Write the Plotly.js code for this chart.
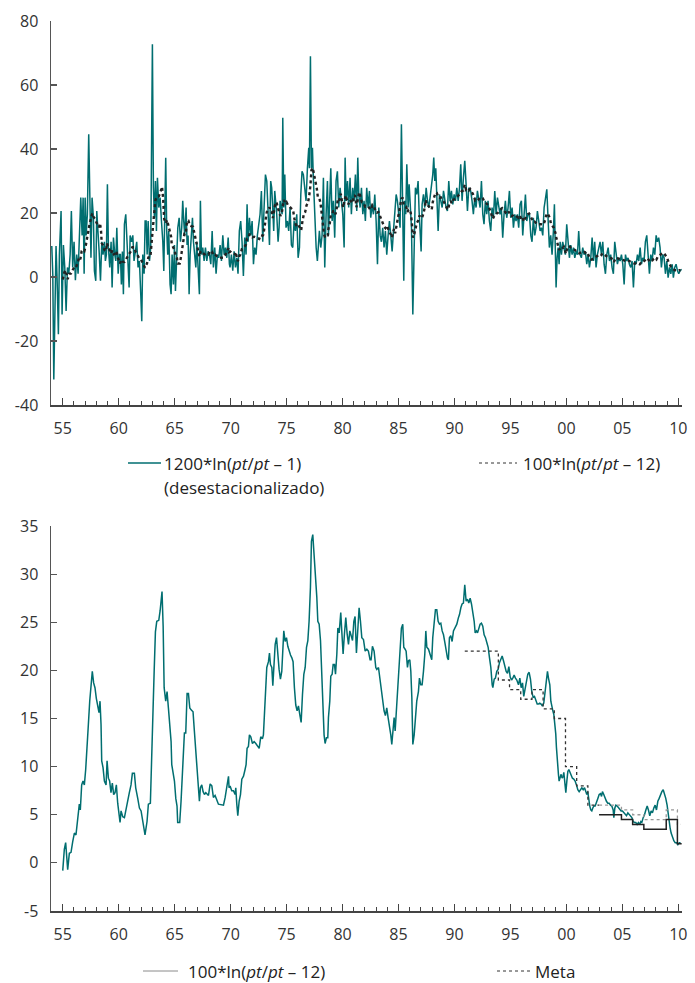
<!DOCTYPE html>
<html>
<head>
<meta charset="utf-8">
<script src="https://cdn.plot.ly/plotly-3.0.1.min.js"></script>
<style>
html,body{margin:0;padding:0;background:#fff;}
#chart{width:695px;height:983px;}
</style>
</head>
<body>
<div id="chart"></div>
<script>
// ---------------- DATA ----------------
// Inflación mensual anualizada 1200*ln(pt/pt-1), desestacionalizada (fecha decimal, valor)
const mensT = [1954.02,1954.11,1954.20,1954.32,1954.40,1954.49,1954.61,1954.70,1954.85,1954.94,
1955.06,1955.18,1955.30,1955.42,1955.54,1955.66,1955.77,1955.89,1956.01,1956.13,1956.25,1956.37,1956.49,1956.61,1956.73,1956.82,1956.91,
1957.00,1957.09,1957.20,1957.32,1957.43,1957.52,1957.62,1957.74,1957.83,1957.95,1958.04,1958.13,1958.25,1958.37,1958.49,1958.60,1958.72,1958.81,1958.90,1958.99,
1959.08,1959.20,1959.32,1959.41,1959.53,1959.65,1959.74,1959.83,1959.95,1960.06,1960.15,1960.24,1960.33,1960.42,1960.51,1960.63,1960.72,1960.81,1960.93,
1961.02,1961.14,1961.26,1961.37,1961.49,1961.61,1961.73,1961.85,1961.97,1962.06,1962.15,1962.27,1962.36,1962.45,1962.54,1962.63,1962.75,1962.86,
1963.01,1963.10,1963.19,1963.28,1963.37,1963.46,1963.58,1963.70,1963.82,1963.94,1964.03,1964.12,1964.20,1964.29,1964.38,1964.47,1964.59,1964.68,1964.77,1964.89,1964.98,
1965.07,1965.16,1965.28,1965.40,1965.52,1965.63,1965.72,1965.81,1965.90,1966.02,1966.11,1966.20,1966.29,1966.38,1966.50,1966.59,1966.68,1966.80,1966.89,1966.98,
1967.09,1967.21,1967.30,1967.39,1967.51,1967.63,1967.75,1967.87,1967.99,1968.11,1968.23,1968.35,1968.46,1968.58,1968.70,1968.82,1968.94,
1969.06,1969.18,1969.30,1969.42,1969.54,1969.66,1969.78,1969.89,1969.95,1970.07,1970.19,1970.31,1970.43,1970.55,1970.66,1970.78,1970.90,
1971.02,1971.14,1971.26,1971.38,1971.47,1971.56,1971.68,1971.80,1971.92,1972.04,1972.15,1972.27,1972.39,1972.51,1972.63,1972.75,1972.87,1972.99,
1973.11,1973.23,1973.35,1973.47,1973.58,1973.67,1973.76,1973.85,1973.94,1974.03,1974.12,1974.24,1974.33,1974.42,1974.51,1974.60,1974.66,1974.75,1974.84,1974.95,
1975.07,1975.19,1975.31,1975.43,1975.55,1975.67,1975.79,1975.91,1976.03,1976.15,1976.27,1976.38,1976.50,1976.62,1976.74,1976.86,1976.98,
1977.04,1977.13,1977.22,1977.31,1977.40,1977.52,1977.64,1977.75,1977.84,1977.93,1978.05,1978.17,1978.29,1978.41,1978.53,1978.65,1978.74,1978.83,1978.95,
1979.07,1979.18,1979.30,1979.42,1979.54,1979.66,1979.78,1979.90,1980.02,1980.14,1980.23,1980.32,1980.44,1980.55,1980.67,1980.79,1980.91,
1981.03,1981.15,1981.27,1981.36,1981.45,1981.57,1981.69,1981.81,1981.92,1982.04,1982.16,1982.28,1982.40,1982.52,1982.64,1982.76,1982.88,
1983.00,1983.12,1983.24,1983.36,1983.47,1983.59,1983.71,1983.83,1983.95,1984.07,1984.19,1984.31,1984.43,1984.55,1984.67,1984.79,1984.90,
1985.02,1985.14,1985.26,1985.35,1985.47,1985.56,1985.65,1985.74,1985.86,1985.95,1986.04,1986.16,1986.28,1986.39,1986.51,1986.63,1986.75,1986.84,1986.93,
1987.02,1987.11,1987.23,1987.35,1987.47,1987.59,1987.70,1987.82,1987.94,1988.06,1988.15,1988.24,1988.33,1988.42,1988.54,1988.66,1988.78,1988.90,
1989.02,1989.13,1989.25,1989.37,1989.49,1989.61,1989.73,1989.85,1989.97,1990.09,1990.21,1990.33,1990.45,1990.56,1990.68,1990.80,1990.92,
1991.04,1991.16,1991.28,1991.45,1991.57,1991.69,1991.81,1991.93,1992.05,1992.17,1992.29,1992.41,1992.53,1992.64,1992.76,1992.88,
1993.00,1993.12,1993.24,1993.36,1993.48,1993.60,1993.72,1993.84,1993.96,1994.07,1994.19,1994.31,1994.43,1994.55,1994.67,1994.79,1994.91,
1995.03,1995.15,1995.27,1995.39,1995.50,1995.62,1995.74,1995.86,1995.98,1996.10,1996.22,1996.34,1996.46,1996.58,1996.70,1996.82,1996.93,
1997.05,1997.17,1997.29,1997.41,1997.53,1997.65,1997.77,1997.89,1998.01,1998.13,1998.25,1998.36,1998.48,1998.60,1998.72,1998.84,1998.93,
1999.02,1999.08,1999.17,1999.26,1999.35,1999.44,1999.56,1999.67,1999.79,1999.91,2000.03,2000.15,2000.27,2000.39,2000.51,2000.63,2000.75,2000.87,2000.99,
2001.10,2001.22,2001.34,2001.46,2001.58,2001.70,2001.82,2001.94,2002.06,2002.18,2002.30,2002.42,2002.53,2002.65,2002.77,2002.89,
2003.01,2003.13,2003.25,2003.37,2003.49,2003.61,2003.73,2003.85,2003.96,2004.08,2004.20,2004.32,2004.44,2004.56,2004.68,2004.80,2004.92,
2005.04,2005.16,2005.28,2005.39,2005.51,2005.63,2005.75,2005.87,2005.99,2006.11,2006.23,2006.35,2006.47,2006.59,2006.71,2006.82,2006.94,
2007.06,2007.18,2007.30,2007.42,2007.54,2007.66,2007.78,2007.90,2008.02,2008.13,2008.25,2008.37,2008.49,2008.61,2008.73,2008.85,2008.97,
2009.09,2009.21,2009.33,2009.45,2009.56,2009.68,2009.80,2009.92,2010.04,2010.16,2010.30];
const mensV = [9.7,0.8,-32,0,9.7,0,-17.9,7,20.6,-11.7,
10,3,-10.6,3,1,7,20.6,3,11,-1,7,1,11,24.8,13,24.8,1,
24.8,13,19.6,44.6,26.9,6,24.8,18.5,1.9,-1.2,20.6,13,8,-1.2,11,7,11,5,7,29,
9.2,3,11,-3.3,12.3,7,5,15.4,1,7,7,-2.3,8,-5.4,16.5,19.6,13,7,-3.3,
13,11,13,5,8,11,3,5,-5.4,-13.8,7,1,17.5,17.5,7,17.5,5,9.2,
72.7,28,18.5,30,14.4,31,21.7,24.8,17.5,11,1.9,18.5,37.3,14.4,7,14.4,-2.3,-5.4,7,-2.3,10,
-4.4,7,15.4,18.5,11,15.4,23.8,17.5,13,21.7,10,13,-5.4,7,14.4,18.5,11,7,3,11,
4,-5.4,23.8,7,9.2,5,9.2,5,8,7,4,14.4,3,9.2,1,7,6,
10,5,13,7,9.2,6,12.3,4,3,7,2,8,3,6,1,14.4,17.5,
11,0.3,12.3,7,22.7,11,18.5,13,17.5,4,9.2,7,13,17.5,19.6,26.9,11,21.7,
32,30,17.5,10,30,27.9,21.7,14.4,26.9,23.8,19.6,11,15.4,23.8,21.7,19.6,49.8,21.7,32,15.4,
17.5,14.4,21.7,10,9.2,17.5,14.4,19.6,6,9.2,25.8,33,32,27.9,23.8,34,40.4,
34,69,34,40.4,30,17.5,9.2,5,11,14.4,9.2,13,31,3,19.6,30,13,22.7,34,
17.5,23.8,12.3,30,33,21.7,27.9,23.8,19.6,9.2,37.3,23.8,30,21.7,31,19.6,27.9,
23.8,32,20.6,37.3,25.8,21.7,27.9,19.6,23.8,17.5,27.9,21.7,26.9,18.5,22.7,19.6,25.8,
17.5,4,21.7,13,11,15.4,9.2,14.4,7,13,17.5,13,8,14.4,21.7,25.8,23.8,
18.5,15.4,47.7,23.8,-1.2,23.8,19.6,35.2,21.7,29,23.8,15.4,-11.7,14.4,27.9,25.8,30,20.6,14.4,
8,22.7,25.8,21.7,27.9,23.8,21.7,24.8,27.9,32,37.3,30,34,25.8,14.4,25.8,23.8,21.7,
26.9,23.8,21.7,20.6,30,23.8,26.9,22.7,25.8,23.8,27.9,23.8,27.9,35.2,23.8,31,36.3,
29,20.6,27.9,26.9,23.8,19.6,24.8,21.7,26.9,23.8,21.7,30,19.6,16.5,23.8,19.6,
23.8,17.5,14.4,21.7,18.5,26.9,19.6,24.8,21.7,19.6,21.7,12.3,19.6,23.8,18.5,21.7,26.9,
18.5,21.7,15.4,19.6,17.5,19.6,15.4,22.7,23.8,13,19.6,25.8,17.5,19.6,19.6,13,11,
18.5,13,15.4,20.6,17.5,14.4,15.4,13,21.7,24.8,27.4,18.5,9.2,13,7,14.4,22.7,
7,-3.3,6,9.2,4,11,7,11,9.2,7,16.5,9.2,6,10,7,9.2,6,8,7,
14.4,7,6,9.2,7,8,4,7,3,6,12.3,5,11,3,7,9.2,
11,7,11,4,1,7,9.2,5,7,3,1,11,7,4,6,5,7,
4,-2.3,7,5,6,4,3,5,-3.3,5,4,7,5,9.2,4,6,5,
11,13,7,1,7,5,9.2,7,13,11,12.3,9.2,3,7,6,1,5,
-0.2,3,1,4,-0.2,3,4,2,1,2,2.4];

// Inflación anual 100*ln(pt/pt-12) (fecha decimal, valor)
const anualT = [1955.00,1955.14,1955.26,1955.44,1955.59,1955.74,1955.89,1956.04,1956.18,1956.33,1956.48,1956.57,1956.69,1956.81,1956.93,
1957.05,1957.17,1957.29,1957.41,1957.52,1957.64,1957.76,1957.88,1958.00,1958.12,1958.24,1958.33,1958.42,1958.48,1958.60,1958.72,1958.87,1958.96,
1959.08,1959.19,1959.31,1959.43,1959.55,1959.67,1959.79,1959.91,1960.03,1960.12,1960.21,1960.36,1960.51,1960.66,1960.81,1960.95,
1961.10,1961.22,1961.40,1961.52,1961.70,1961.85,1962.00,1962.17,1962.35,1962.53,1962.65,1962.83,1962.95,1963.07,1963.17,1963.28,1963.40,1963.58,1963.70,1963.87,1963.97,
1964.06,1964.20,1964.32,1964.44,1964.56,1964.68,1964.74,1964.86,1964.98,1965.10,1965.21,1965.27,1965.45,1965.57,1965.69,1965.81,1965.87,1965.99,
1966.11,1966.23,1966.35,1966.47,1966.64,1966.76,1966.88,1967.00,1967.12,1967.21,1967.30,1967.42,1967.54,1967.66,1967.78,1967.89,
1968.02,1968.17,1968.32,1968.46,1968.61,1968.91,1969.21,1969.36,1969.51,1969.66,1969.81,1969.86,1969.95,1970.10,1970.25,1970.40,1970.46,1970.55,1970.64,1970.76,1970.88,
1971.00,1971.15,1971.29,1971.38,1971.47,1971.59,1971.68,1971.80,1971.95,1972.10,1972.25,1972.40,1972.55,1972.69,1972.84,1972.93,
1973.02,1973.14,1973.23,1973.38,1973.47,1973.56,1973.68,1973.77,1973.86,1973.98,1974.10,1974.21,1974.33,1974.45,1974.57,1974.66,1974.75,1974.87,1974.99,
1975.11,1975.23,1975.35,1975.47,1975.58,1975.70,1975.82,1975.94,1976.06,1976.18,1976.30,1976.42,1976.54,1976.66,1976.78,1976.90,
1977.01,1977.13,1977.22,1977.34,1977.46,1977.58,1977.70,1977.79,1977.91,1978.03,1978.15,1978.24,1978.35,1978.44,1978.56,1978.68,1978.74,1978.86,1978.95,
1979.07,1979.16,1979.28,1979.37,1979.49,1979.58,1979.70,1979.84,1979.93,1980.05,1980.17,1980.29,1980.41,1980.53,1980.65,1980.77,1980.89,
1981.01,1981.12,1981.24,1981.36,1981.48,1981.60,1981.72,1981.87,
1982.02,1982.17,1982.31,1982.46,1982.55,1982.67,1982.82,1982.97,1983.06,1983.21,1983.36,1983.51,1983.60,1983.71,1983.83,1983.95,
1984.07,1984.19,1984.31,1984.40,1984.49,1984.61,1984.70,1984.79,1984.91,1985.03,1985.15,1985.26,1985.38,1985.47,1985.59,1985.68,1985.80,1985.89,
1986.01,1986.10,1986.19,1986.28,1986.40,1986.52,1986.63,1986.78,1986.87,1986.99,1987.11,1987.23,1987.35,1987.44,1987.53,1987.68,1987.83,1987.97,
1988.06,1988.18,1988.30,1988.42,1988.54,1988.66,1988.78,1988.90,1989.02,1989.14,1989.26,1989.37,1989.46,1989.55,1989.67,1989.79,1989.91,
1990.06,1990.21,1990.36,1990.45,1990.57,1990.68,1990.80,1990.92,1991.04,1991.16,1991.28,1991.40,1991.52,1991.64,1991.76,1991.85,1991.97,
1992.06,1992.18,1992.29,1992.41,1992.53,1992.65,1992.77,1992.89,1993.01,1993.13,1993.25,1993.37,1993.43,1993.55,1993.66,1993.78,1993.90,
1994.02,1994.14,1994.26,1994.38,1994.50,1994.62,1994.74,1994.86,1994.98,1995.10,1995.21,1995.33,1995.45,1995.57,1995.72,1995.84,1995.96,
1996.08,1996.19,1996.31,1996.43,1996.55,1996.67,1996.79,1996.91,1997.03,1997.15,1997.27,1997.39,1997.50,1997.62,1997.74,1997.86,1997.98,
1998.10,1998.22,1998.31,1998.40,1998.52,1998.61,1998.70,1998.79,1998.88,1998.93,1998.99,1999.05,1999.11,1999.17,1999.23,1999.29,1999.35,
1999.44,1999.53,1999.62,1999.71,1999.77,1999.86,1999.95,2000.04,2000.13,2000.22,2000.31,2000.42,2000.54,2000.66,2000.78,2000.90,
2001.02,2001.14,2001.26,2001.38,2001.50,2001.62,2001.74,2001.82,2001.91,2002.00,2002.09,2002.18,2002.27,2002.36,2002.45,2002.57,2002.69,2002.81,2002.93,
2003.05,2003.14,2003.22,2003.34,2003.46,2003.58,2003.70,2003.82,2003.94,2004.06,2004.18,2004.24,2004.33,2004.42,2004.54,2004.65,2004.77,2004.89,
2005.01,2005.13,2005.25,2005.37,2005.49,2005.61,2005.73,2005.85,2005.97,2006.08,2006.20,2006.32,2006.44,2006.56,2006.65,2006.74,2006.86,2006.98,
2007.10,2007.22,2007.33,2007.45,2007.57,2007.69,2007.81,2007.93,2008.05,2008.17,2008.29,2008.41,2008.53,2008.65,2008.77,2008.88,
2009.00,2009.09,2009.18,2009.27,2009.36,2009.48,2009.60,2009.72,2009.84,2009.96,2010.08,2010.20];
const anualV = [-0.8,1.4,2.1,-0.7,1.0,1.1,2.2,3.1,2.9,4.7,6.1,5.5,8.1,8.5,8.1,
9.7,11.6,14.4,16.8,18.9,19.9,18.7,18.2,17.1,16.1,15.6,16.8,14.4,10.6,9.9,8.5,8.1,10.6,
8.8,8.5,7.3,8.3,7.1,7.3,8.1,6.2,5.0,4.2,5.4,4.8,4.7,5.7,6.7,7.3,
8.1,9.3,9.3,7.8,6.7,5.7,5.4,4.0,2.9,4.3,6.1,6.2,12.6,16.0,20.0,24.0,25.1,25.2,26.2,28.2,24.6,
18.2,16.8,17.8,16.1,14.4,12.6,10.2,9.2,8.5,6.7,5.9,4.2,4.2,6.4,9.2,11.2,13.5,13.5,
17.6,17.6,16.1,15.9,15.7,13.7,11.9,9.9,8.5,6.4,7.8,8.1,7.4,7.1,7.3,7.1,
7.0,8.2,8.0,6.8,7.0,6.1,6.0,6.0,6.8,7.8,9.0,7.8,8.0,7.5,7.5,7.1,7.8,6.1,4.9,6.4,7.1,
8.7,9.0,9.7,10.2,11.9,12.1,13.3,13.1,12.4,12.6,12.4,12.1,11.9,13.1,12.9,13.3,
15.1,17.5,20.3,20.9,21.8,20.6,20.3,18.4,20.9,22.7,23.4,21.6,20.1,19.1,19.9,22.0,24.1,23.0,23.4,
22.5,22.0,21.6,21.3,20.9,18.2,16.4,15.8,16.3,15.4,14.6,17.5,19.6,20.3,22.4,23.1,
25.1,28.6,33.4,34.1,32.1,29.3,27.6,25.1,24.8,23.1,19.6,16.1,13.3,12.4,13.0,13.0,15.1,16.8,19.4,
19.6,20.6,20.6,19.6,21.7,24.4,23.9,26.0,24.1,21.7,23.8,25.5,23.8,22.7,24.1,23.6,23.1,
25.1,25.6,21.8,24.4,26.5,25.1,23.4,23.2,
22.0,22.2,22.0,21.1,21.1,22.5,22.0,20.3,20.1,20.3,18.9,17.8,16.5,15.8,15.3,16.1,
15.1,14.4,13.3,12.3,14.0,15.1,13.7,15.4,17.2,19.9,21.7,24.4,24.8,22.4,22.2,22.0,20.3,21.0,
21.1,19.9,17.2,12.3,13.3,15.4,16.8,17.8,19.2,18.5,18.5,19.9,21.7,24.1,22.4,22.2,21.7,21.1,
23.4,24.8,26.3,26.3,25.1,24.8,24.9,24.1,23.7,22.9,22.0,21.3,21.1,23.4,23.6,23.0,24.1,
24.4,24.8,25.5,25.8,26.5,26.9,27.0,28.9,27.2,27.4,27.0,27.5,26.9,26.0,25.1,23.9,24.1,
23.9,24.3,24.8,24.9,24.6,23.7,23.4,22.9,22.4,21.3,20.3,18.5,18.2,19.1,19.2,19.9,20.1,
20.8,21.1,21.5,21.0,20.3,19.9,19.7,20.4,19.3,19.0,19.2,19.5,19.2,19.0,18.5,19.2,18.2,
18.7,17.3,18.2,19.2,19.6,19.8,19.1,17.8,17.2,17.3,16.8,16.5,16.5,16.6,16.5,16.3,16.6,
17.8,19.6,19.9,19.2,18.5,16.8,16.1,15.8,15.4,14.9,14.4,13.4,12.0,10.6,9.9,9.2,8.5,
8.8,9.2,8.8,9.0,9.4,8.5,7.3,8.5,9.5,9.7,9.4,9.2,8.8,8.7,8.5,8.1,
7.6,7.4,7.6,7.8,7.6,7.8,7.4,7.1,7.4,6.4,5.9,5.5,5.4,5.7,5.9,5.9,6.4,6.7,7.1,
7.2,6.9,7.4,7.1,6.7,6.4,6.2,6.2,6.0,5.9,5.5,4.7,5.7,6.0,5.9,5.7,5.5,5.4,
5.4,5.2,5.0,4.9,5.2,5.0,4.9,4.7,4.3,4.2,4.2,4.0,4.2,4.0,4.3,4.2,4.7,5.0,
5.5,5.9,5.5,4.9,5.4,5.2,5.7,6.0,5.5,6.4,6.7,7.1,7.4,7.6,7.2,6.7,
6.0,5.0,4.2,3.6,3.1,2.6,2.3,2.1,2.1,1.9,2.1,2.1];

// Meta de inflación (escalonada)
const metaT = [1990.92,1993.92,1994.92,1995.92,1996.92,1997.92,1998.92,1999.92,2000.92,2001.92,2002.92];
const metaV = [22,19,18,17,18,16,15,10,8,6,6];
// Rango meta: límite superior e inferior
const metaSupT = [2002.92,2004.92,2005.92,2006.92,2008.92,2009.92,2010.22];
const metaSupV = [6,5.5,5,4.5,5.5,4,4];
const metaInfT = [2002.92,2004.92,2005.92,2006.92,2008.92,2009.92,2010.30];
const metaInfV = [5,4.5,4,3.5,4.5,2,2];

const tickYears = [1955,1960,1965,1970,1975,1980,1985,1990,1995,2000,2005,2010];
const tickLabels = ["55","60","65","70","75","80","85","90","95","00","05","10"];
const yTicks1 = [-40,-20,0,20,40,60,80];
const yLabels1 = ["-40","-20","0","20","40","60","80"];
const yTicks2 = [-5,0,5,10,15,20,25,30,35];
const yLabels2 = ["-5","0","5","10","15","20","25","30","35"];

// ---------------- LAYOUT ----------------
const W = 695, H = 983, ML = 51, MR = 13, MT = 21, MB = 72;
const PW = W - ML - MR, PH = H - MT - MB;
const px = v => (v - ML) / PW;
const py = v => (H - MB - v) / PH;

const TEAL = "#006e70";
const FONT = "'Open Sans', Lato, sans-serif";
const TXT = "#333333";

const xBase = {
  range: [1953.95, 2010.33],
  tickvals: tickYears, ticktext: tickLabels,
  ticks: "inside", ticklen: 7, tickwidth: 1.2, tickcolor: "#444",
  minor: {dtick: 1, tick0: 1955, ticks: "inside", ticklen: 4, tickwidth: 1, tickcolor: "#444"},
  showline: true, linecolor: "#444", linewidth: 1.5,
  showgrid: false, zeroline: false,
  tickfont: {family: FONT, size: 16, color: TXT},
  ticklabelstandoff: 8
};
const yBase = {
  ticks: "inside", ticklen: 6, tickwidth: 1.2, tickcolor: "#555",
  showline: true, linecolor: "#555", linewidth: 1.5,
  showgrid: false, zeroline: false,
  tickfont: {family: FONT, size: 16, color: TXT},
  ticklabelstandoff: 8
};

const traces = [
  {x: mensT, y: mensV, type: "scatter", mode: "lines", xaxis: "x", yaxis: "y",
   line: {color: TEAL, width: 1.5}, hoverinfo: "skip"},
  {x: anualT, y: anualV, type: "scatter", mode: "lines", xaxis: "x", yaxis: "y",
   line: {color: "#222", width: 2.4, dash: "dot"}, hoverinfo: "skip"},
  {x: anualT, y: anualV, type: "scatter", mode: "lines", xaxis: "x2", yaxis: "y2",
   line: {color: TEAL, width: 1.5}, hoverinfo: "skip"},
  {x: metaT, y: metaV, type: "scatter", mode: "lines", xaxis: "x2", yaxis: "y2",
   line: {color: "#333", width: 1.3, dash: "dot", shape: "hv"}, hoverinfo: "skip"},
  {x: metaSupT, y: metaSupV, type: "scatter", mode: "lines", xaxis: "x2", yaxis: "y2",
   line: {color: "#999", width: 1.3, dash: "dot", shape: "hv"}, hoverinfo: "skip"},
  {x: metaInfT, y: metaInfV, type: "scatter", mode: "lines", xaxis: "x2", yaxis: "y2",
   line: {color: "#222", width: 1.5, shape: "hv"}, hoverinfo: "skip"}
];

const legFont = {family: FONT, size: 17, color: "#222"};
function ann(x, y, text) {
  return {xref: "paper", yref: "paper", x: px(x), y: py(y), xanchor: "left", yanchor: "middle",
          text: text, showarrow: false, font: legFont, align: "left"};
}
function seg(x0, x1, y, color, width, dash) {
  return {type: "line", xref: "paper", yref: "paper", x0: px(x0), x1: px(x1), y0: py(y), y1: py(y),
          line: {color: color, width: width, dash: dash || "solid"}};
}

const layout = {
  width: W, height: H,
  margin: {l: ML, r: MR, t: MT, b: MB},
  paper_bgcolor: "#fff", plot_bgcolor: "#fff",
  showlegend: false,
  xaxis: Object.assign({}, xBase, {anchor: "y"}),
  xaxis2: Object.assign({}, xBase, {anchor: "y2"}),
  yaxis: Object.assign({}, yBase, {domain: [py(405), 1], range: [-40, 80], tickvals: yTicks1, ticktext: yLabels1}),
  yaxis2: Object.assign({}, yBase, {domain: [0, py(526)], range: [-5, 35], tickvals: yTicks2, ticktext: yLabels2}),
  shapes: [
    seg(128, 161, 463, TEAL, 1.5),
    seg(479, 517, 463, "#333", 1, "dot"),
    seg(143, 178, 971, "#8a8a8a", 1),
    seg(497, 530, 971, "#333", 1, "dot")
  ],
  annotations: [
    ann(162, 463, "1200*ln(<i>pt</i>/<i>pt</i> – 1)"),
    ann(162, 487, "(desestacionalizado)"),
    ann(521, 463, "100*ln(<i>pt</i>/<i>pt</i> – 12)"),
    ann(186, 971, "100*ln(<i>pt</i>/<i>pt</i> – 12)"),
    ann(533, 971, "Meta")
  ]
};

Plotly.newPlot("chart", traces, layout, {displayModeBar: false, staticPlot: true});
</script>
</body>
</html>
